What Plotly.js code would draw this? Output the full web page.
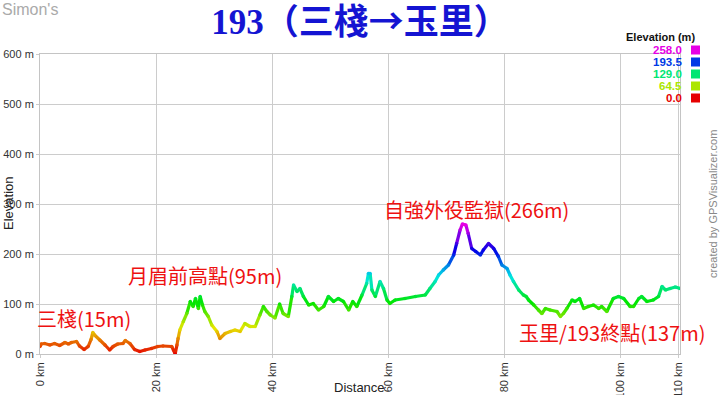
<!DOCTYPE html>
<html><head><meta charset="utf-8">
<script src="https://cdn.plot.ly/plotly-3.0.1.min.js"></script>
<style>html,body{margin:0;padding:0;background:#fff;} #chart{width:720px;height:395px;}</style>
</head><body><div id="chart"></div>
<script>
const distanceKm = [0.0,0.2,0.8,1.7,2.5,3.4,4.3,4.9,5.4,6.3,6.8,7.6,8.3,8.8,9.1,9.4,10.3,11.2,12.0,12.6,13.4,14.3,14.7,15.5,16.3,17.2,18.1,19.2,20.3,21.2,22.7,23.0,23.3,23.6,23.8,24.1,24.7,25.3,25.9,26.4,26.8,27.3,27.6,28.0,28.4,29.0,29.6,30.5,31.0,31.9,32.8,33.6,34.5,35.3,36.2,37.1,37.9,38.5,39.1,39.7,40.5,41.3,41.9,42.8,43.4,43.7,44.3,44.8,45.4,46.3,47.1,48.0,48.9,49.7,50.6,51.4,52.3,53.2,53.9,54.6,55.5,56.3,56.6,56.9,57.2,57.8,58.6,59.2,59.8,60.3,61.2,62.9,64.7,66.4,67.2,68.1,68.7,69.5,70.4,71.3,71.8,72.4,72.8,73.4,73.8,74.4,75.1,75.9,76.4,77.3,78.2,79.0,79.6,80.5,81.0,81.6,82.5,83.3,83.8,84.2,85.1,85.9,86.5,87.1,87.9,89.1,89.7,90.2,90.8,91.7,92.2,93.0,93.7,94.5,95.4,96.3,96.8,97.7,98.8,99.7,100.6,101.7,102.3,103.2,103.7,104.6,105.7,106.6,107.2,107.8,108.6,109.5,110.3];
const elevationM = [15,20,21,18,21,17,23,20,23,25,16,9,15,29,43,38,28,18,8,15,20,21,27,21,9,5,8,11,15,16,15,8,0,18,31,48,65,81,105,95,111,91,115,98,85,75,58,45,31,41,45,48,45,61,55,55,78,95,85,78,72,100,81,75,115,138,125,131,115,98,101,88,95,115,105,111,105,88,105,95,118,141,161,161,128,115,145,131,108,101,108,111,115,118,131,145,158,168,178,198,221,248,260,258,241,211,205,198,208,221,211,195,178,171,158,145,128,118,115,108,98,88,81,91,88,85,75,81,91,108,105,111,91,95,98,91,95,85,111,115,111,95,95,111,115,105,108,115,135,128,131,134,131];
const xTickValues = [0,20,40,60,80,100,110];
const xTickLabels = ['0 km','20 km','40 km','60 km','80 km','100 km','110 km'];
const yTickValues = [0,100,200,300,400,500,600];
const yTickLabels = ['0 m','100 m','200 m','300 m','400 m','500 m','600 m'];
const legendValues = [258.0,193.5,129.0,64.5,0.0];
const legendLabels = ['258.0','193.5','129.0','64.5','0.0'];
const pointLabels = ['三棧(15m)','月眉前高點(95m)','自強外役監獄(266m)','玉里/193終點(137m)'];
const titleNumber = '193';
const titleRoute = '（三棧→玉里）';

const EMAX = 258;
function elevColor(e){
  const t = Math.max(0, Math.min(1, e/EMAX));
  return 'hsl(' + (300*t).toFixed(1) + ',100%,45%)';
}

const traces = [];
for (let i = 0; i < distanceKm.length - 1; i++) {
  traces.push({
    type:'scatter', mode:'lines',
    x:[distanceKm[i], distanceKm[i+1]],
    y:[elevationM[i], elevationM[i+1]],
    line:{color: elevColor((elevationM[i]+elevationM[i+1])/2), width:3.2},
    hoverinfo:'skip', showlegend:false
  });
}
traces.push({
  type:'scatter', mode:'markers', x:distanceKm, y:elevationM,
  marker:{size:3.4, color:elevationM.map(elevColor)},
  hoverinfo:'skip', showlegend:false
});

const font = 'Liberation Sans, Arial, sans-serif';
const cjk = 'Noto Sans CJK TC, sans-serif';
const px2x = p => (p - 40) / 640;
const py2y = p => (354 - p) / 300;

const annotations = [
  {text:pointLabels[0], x:7.6, y:72, xref:'x', yref:'y', showarrow:false, xanchor:'center', yanchor:'middle', font:{family:cjk, size:20, color:'#ee1111'}},
  {text:pointLabels[1], x:28.4, y:158, xref:'x', yref:'y', showarrow:false, xanchor:'center', yanchor:'middle', font:{family:cjk, size:20, color:'#ee1111'}},
  {text:pointLabels[2], x:75.3, y:290, xref:'x', yref:'y', showarrow:false, xanchor:'center', yanchor:'middle', font:{family:cjk, size:20, color:'#ee1111'}},
  {text:pointLabels[3], x:98.6, y:44, xref:'x', yref:'y', showarrow:false, xanchor:'center', yanchor:'middle', font:{family:cjk, size:20, color:'#ee1111'}},
  {text:'Simon\'s', x:px2x(0), y:py2y(10), xref:'paper', yref:'paper', showarrow:false, xanchor:'left', yanchor:'middle', font:{family:font, size:16, color:'#aaaaaa'}},
  {text:'Elevation (m)', x:px2x(660), y:py2y(37), xref:'paper', yref:'paper', showarrow:false, xanchor:'center', yanchor:'middle', font:{family:font, size:11, color:'#111111', weight:'bold'}},
  {text:'created by GPSVisualizer.com', x:px2x(713), y:py2y(204), xref:'paper', yref:'paper', showarrow:false, textangle:-90, xanchor:'center', yanchor:'middle', font:{family:font, size:11, color:'#888888'}},
  {text:'Distance', x:px2x(359), y:py2y(387), xref:'paper', yref:'paper', showarrow:false, xanchor:'center', yanchor:'middle', font:{family:font, size:13, color:'#222222'}},
  {text:'Elevation', x:px2x(8), y:py2y(204), xref:'paper', yref:'paper', showarrow:false, textangle:-90, xanchor:'center', yanchor:'middle', font:{family:font, size:13, color:'#222222'}}
];
const shapes = [];
legendValues.forEach((v, i) => {
  const cy = 50 + i*12;
  const c = elevColor(v);
  annotations.push({text:legendLabels[i], x:px2x(684), y:py2y(cy), xref:'paper', yref:'paper', showarrow:false, xanchor:'right', yanchor:'middle', font:{family:font, size:11.5, color:c, weight:'bold'}});
  shapes.push({type:'rect', xref:'paper', yref:'paper', x0:px2x(691), x1:px2x(700), y0:py2y(cy+4.5), y1:py2y(cy-4.5), fillcolor:c, line:{width:0}});
});

const titleText = titleNumber + '<span style="font-family:Noto Sans CJK TC">' + titleRoute + '</span>';

const layout = {
  width:720, height:395, autosize:false,
  margin:{l:40, r:40, t:54, b:41, pad:0},
  paper_bgcolor:'#ffffff', plot_bgcolor:'#ffffff',
  title:{text:titleText, x:0.5, xref:'container', y:1-22/395, yref:'container', yanchor:'middle', xanchor:'center',
         font:{family:'Liberation Serif, serif', size:35, color:'#1414d2', weight:'bold'}},
  xaxis:{range:[0,110.3], tickvals:xTickValues, ticktext:xTickLabels, tickangle:-90,
         showgrid:true, gridcolor:'#cccccc', gridwidth:1, zeroline:false,
         showline:true, mirror:true, linecolor:'#c4c4c4', linewidth:1,
         ticks:'outside', ticklen:3, tickcolor:'#cccccc',
         tickfont:{family:font, size:11, color:'#333333'}, fixedrange:true},
  yaxis:{range:[0,600], tickvals:yTickValues, ticktext:yTickLabels,
         showgrid:true, gridcolor:'#cccccc', gridwidth:1, zeroline:false,
         showline:true, mirror:true, linecolor:'#c4c4c4', linewidth:1,
         ticks:'outside', ticklen:3, tickcolor:'#cccccc',
         tickfont:{family:font, size:11, color:'#333333'}, fixedrange:true},
  annotations:annotations, shapes:shapes, showlegend:false
};
Plotly.newPlot('chart', traces, layout, {displayModeBar:false, staticPlot:true});
</script></body></html>
